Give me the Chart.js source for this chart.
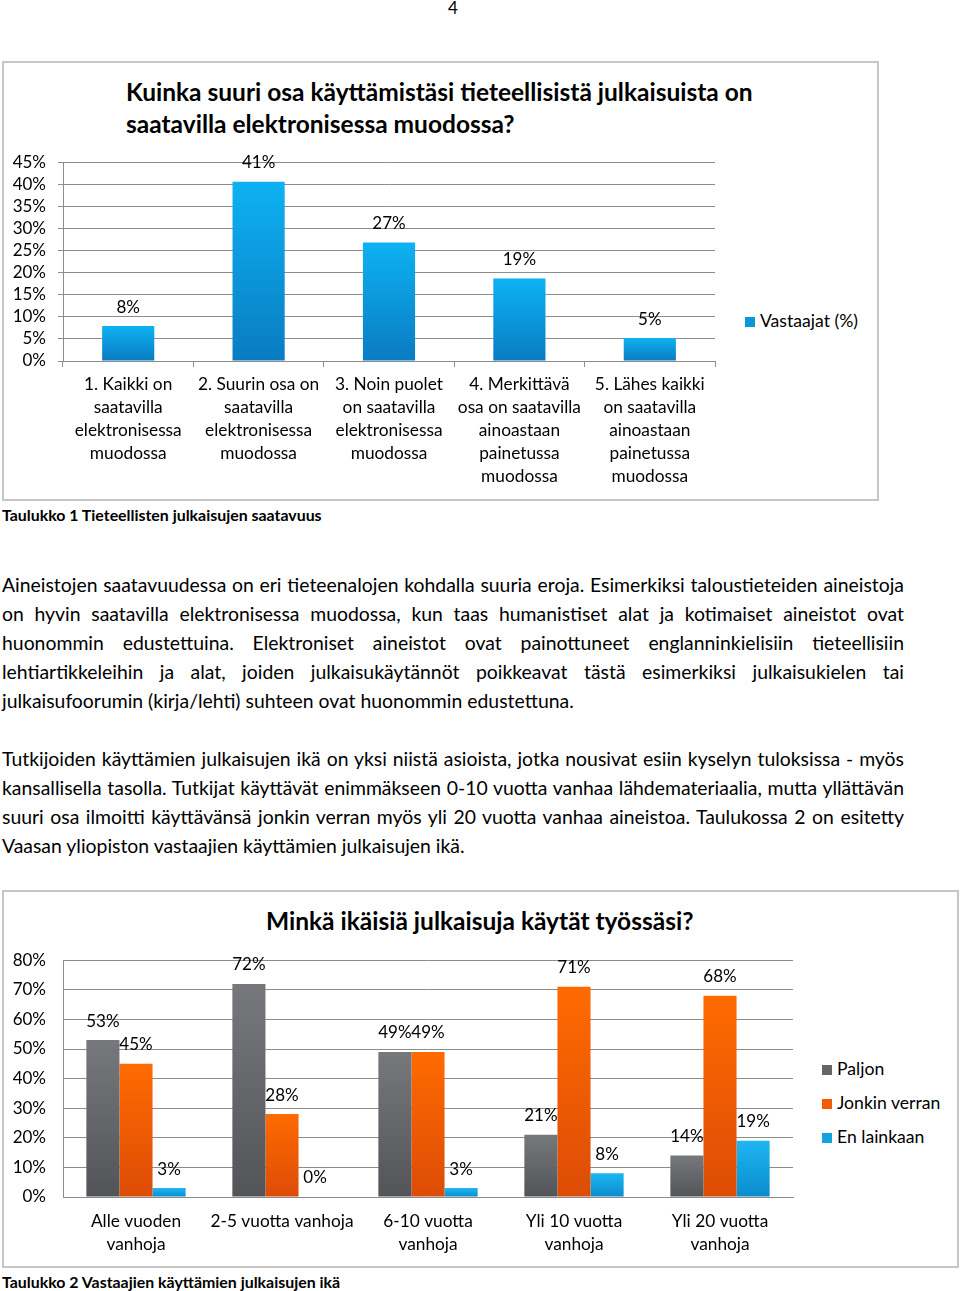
<!DOCTYPE html>
<html><head><meta charset="utf-8">
<script src="https://cdn.jsdelivr.net/npm/chart.js@4.4.1/dist/chart.umd.min.js"></script>
<style>
html,body{margin:0;padding:0;background:#fff;}
body{width:960px;height:1291px;position:relative;overflow:hidden;font-family:Lato,"Open Sans",sans-serif;color:#000;}
.abs{position:absolute;}
.frame{position:absolute;border:2px solid #c6c6c6;box-sizing:border-box;}
.title{position:absolute;font-weight:bold;font-size:24.5px;line-height:32px;white-space:nowrap;color:#000;}
.cap{position:absolute;font-weight:bold;font-size:15.9px;white-space:nowrap;}
.para{position:absolute;left:2px;width:902px;font-size:19.4px;line-height:29px;}
.para div{text-align:justify;text-align-last:justify;white-space:nowrap;}
.para div.last{text-align:left;text-align-last:left;}
.leg{position:absolute;font-size:17.6px;white-space:nowrap;line-height:20px;}
.leg span.sw{display:inline-block;width:10px;height:10px;margin-right:5px;vertical-align:0px;}
canvas{position:absolute;}
</style></head>
<body>
<div class="abs" style="left:448px;top:-3px;font-size:17px;">4</div>

<div class="frame" style="left:2px;top:61px;width:877px;height:440px;"></div>
<div class="title" style="left:126px;top:76px;">Kuinka suuri osa käyttämistäsi tieteellisistä julkaisuista on<br>saatavilla elektronisessa muodossa?</div>
<canvas id="c1" width="740" height="358" style="left:2px;top:140px;"></canvas>
<div class="leg" style="left:745px;top:311px;"><span class="sw" style="background:#0b97d9"></span>Vastaajat (%)</div>
<div class="cap" style="left:2px;top:505px;">Taulukko 1 Tieteellisten julkaisujen saatavuus</div>

<div class="para" style="top:570px;">
<div>Aineistojen saatavuudessa on eri tieteenalojen kohdalla suuria eroja. Esimerkiksi taloustieteiden aineistoja</div>
<div>on hyvin saatavilla elektronisessa muodossa, kun taas humanistiset alat ja kotimaiset aineistot ovat</div>
<div>huonommin edustettuina. Elektroniset aineistot ovat painottuneet englanninkielisiin tieteellisiin</div>
<div>lehtiartikkeleihin ja alat, joiden julkaisukäytännöt poikkeavat tästä esimerkiksi julkaisukielen tai</div>
<div class="last">julkaisufoorumin (kirja/lehti) suhteen ovat huonommin edustettuna.</div>
</div>
<div class="para" style="top:744px;">
<div>Tutkijoiden käyttämien julkaisujen ikä on yksi niistä asioista, jotka nousivat esiin kyselyn tuloksissa - myös</div>
<div>kansallisella tasolla. Tutkijat käyttävät enimmäkseen 0-10 vuotta vanhaa lähdemateriaalia, mutta yllättävän</div>
<div>suuri osa ilmoitti käyttävänsä jonkin verran myös yli 20 vuotta vanhaa aineistoa. Taulukossa 2 on esitetty</div>
<div class="last">Vaasan yliopiston vastaajien käyttämien julkaisujen ikä.</div>
</div>

<div class="frame" style="left:2px;top:890px;width:957px;height:378px;"></div>
<div class="title" style="left:266px;top:905px;">Minkä ikäisiä julkaisuja käytät työssäsi?</div>
<canvas id="c2" width="800" height="329" style="left:2px;top:933px;"></canvas>
<div class="leg" style="left:822px;top:1059px;"><span class="sw" style="background:#636569"></span>Paljon</div>
<div class="leg" style="left:822px;top:1093px;"><span class="sw" style="background:#f25c05"></span>Jonkin verran</div>
<div class="leg" style="left:822px;top:1127px;"><span class="sw" style="background:#13a2e2"></span>En lainkaan</div>
<div class="cap" style="left:2px;top:1272px;">Taulukko 2 Vastaajien käyttämien julkaisujen ikä</div>

<script>
// ---- Chart 1 data ----
const avail_categories = [
  ["1. Kaikki on","saatavilla","elektronisessa","muodossa"],
  ["2. Suurin osa on","saatavilla","elektronisessa","muodossa"],
  ["3. Noin puolet","on saatavilla","elektronisessa","muodossa"],
  ["4. Merkittävä","osa on saatavilla","ainoastaan","painetussa","muodossa"],
  ["5. Lähes kaikki","on saatavilla","ainoastaan","painetussa","muodossa"]
];
const avail_values = [7.9, 40.6, 26.8, 18.7, 5.2];
const avail_series = "Vastaajat (%)";
const avail_step = 5;
const avail_max = 45;

// ---- Chart 2 data ----
const age_categories = [
  ["Alle vuoden","vanhoja"],
  "2-5 vuotta vanhoja",
  ["6-10 vuotta","vanhoja"],
  ["Yli 10 vuotta","vanhoja"],
  ["Yli 20 vuotta","vanhoja"]
];
const age_paljon = [53, 72, 49, 21, 14];
const age_jonkin = [45, 28, 49, 71, 68];
const age_ei = [3, 0, 3, 8, 19];
const age_series = ["Paljon","Jonkin verran","En lainkaan"];
const age_step = 10;
const age_max = 80;

function grad(top, bottom){
  return function(ctx){
    const c = ctx.chart;
    if(!c.chartArea) return top;
    const y = c.scales.y;
    const v = ctx.raw;
    const p1 = y.getPixelForValue(v), p0 = y.getPixelForValue(0);
    if (Math.abs(p0-p1) < 1) return bottom;
    const g = c.ctx.createLinearGradient(0, p1, 0, p0);
    g.addColorStop(0, top); g.addColorStop(1, bottom);
    return g;
  };
}

const labelsPlugin = {
  id:'vals',
  afterDatasetsDraw(chart){
    const ctx = chart.ctx;
    ctx.save();
    ctx.font = '17px Lato';
    ctx.fillStyle = '#000';
    ctx.textAlign = 'center';
    ctx.textBaseline = 'middle';
    chart.data.datasets.forEach((ds, i) => {
      chart.getDatasetMeta(i).data.forEach((el, j) => {
        ctx.fillText(Math.round(ds.data[j]) + '%', el.x, el.y - 19);
      });
    });
    ctx.restore();
  }
};

function draw(){
  Chart.defaults.font.family = 'Lato';
  Chart.defaults.color = '#000';
  const gridColor = '#8c8c8c';

  new Chart(document.getElementById('c1'), {
    type:'bar',
    data:{ labels: avail_categories, datasets:[{ label: avail_series, data: avail_values,
      backgroundColor: grad('#0db2f2', '#0a7bc2'), categoryPercentage:1, barPercentage:0.4 }]},
    options:{
      responsive:false, animation:false, devicePixelRatio:1,
      layout:{ padding:{ top:21, right:27, left:0, bottom:0 } },
      plugins:{ legend:{display:false}, tooltip:{enabled:false} },
      scales:{
        x:{ grid:{ drawOnChartArea:false, drawTicks:true, tickLength:6, color:gridColor, offset:true },
            border:{ color:gridColor },
            ticks:{ autoSkip:false, maxRotation:0, padding:6, font:{ size:17.3, lineHeight:1.33 } },
            afterFit(s){ s.height = 137; } },
        y:{ min:0, max:avail_max,
            grid:{ color:gridColor, tickLength:5 }, border:{ color:gridColor },
            ticks:{ stepSize:avail_step, autoSkip:false, padding:12, font:{ size:17 }, callback:v=>v+'%' },
            afterFit(s){ s.width = 61; } }
      }
    },
    plugins:[labelsPlugin]
  });

  new Chart(document.getElementById('c2'), {
    type:'bar',
    data:{ labels: age_categories, datasets:[
      { label: age_series[0], data: age_paljon, backgroundColor: grad('#76787c','#525458'), categoryPercentage:0.68, barPercentage:1 },
      { label: age_series[1], data: age_jonkin, backgroundColor: grad('#ff6a00','#dc4c06'), categoryPercentage:0.68, barPercentage:1 },
      { label: age_series[2], data: age_ei, backgroundColor: grad('#1eb6f2','#0a8ccd'), categoryPercentage:0.68, barPercentage:1 }
    ]},
    options:{
      responsive:false, animation:false, devicePixelRatio:1,
      layout:{ padding:{ top:12, right:9, left:0, bottom:0 } },
      plugins:{ legend:{display:false}, tooltip:{enabled:false} },
      scales:{
        x:{ grid:{ display:false, drawTicks:false }, border:{ color:gridColor },
            ticks:{ autoSkip:false, maxRotation:0, padding:13, font:{ size:17.3, lineHeight:1.33 } },
            afterFit(s){ s.height = 65; } },
        y:{ min:0, max:age_max,
            grid:{ color:gridColor, drawTicks:false }, border:{ color:gridColor },
            ticks:{ stepSize:age_step, autoSkip:false, padding:17, font:{ size:17 }, callback:v=>v+'%' },
            afterFit(s){ s.width = 61; } }
      }
    },
    plugins:[labelsPlugin]
  });
}
(document.fonts && document.fonts.load) ? Promise.all([document.fonts.load('17px Lato'), document.fonts.load('bold 24px Lato')]).then(draw, draw) : draw();
</script>
</body></html>
